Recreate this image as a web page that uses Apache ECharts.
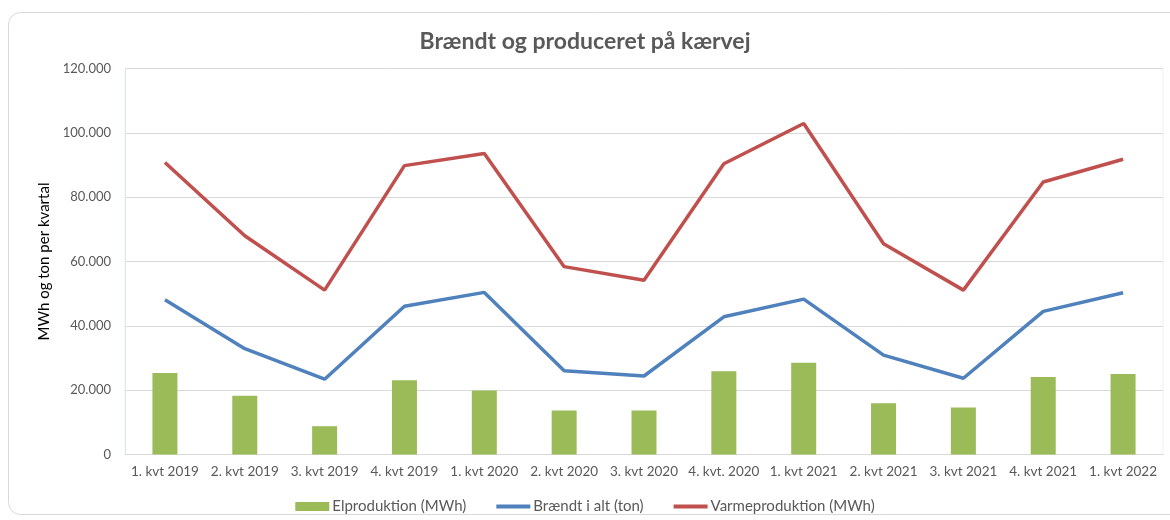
<!DOCTYPE html>
<html>
<head>
<meta charset="utf-8">
<script src="https://cdn.jsdelivr.net/npm/echarts@6/dist/echarts.min.js"></script>
<style>
html,body{margin:0;padding:0;background:#fff;}
#c{width:1170px;height:520px;}
</style>
</head>
<body>
<div id="c"></div>
<script>
var categories = ["1. kvt 2019","2. kvt 2019","3. kvt 2019","4. kvt 2019","1. kvt 2020","2. kvt 2020","3. kvt 2020","4. kvt. 2020","1. kvt 2021","2. kvt 2021","3. kvt 2021","4. kvt 2021","1. kvt 2022"];
var elproduktion = [25300,18300,8800,23100,19900,13700,13700,25900,28500,15900,14600,24100,25000];
var braendt = [48100,32900,23400,46100,50400,26000,24400,42800,48300,30900,23700,44500,50300];
var varme = [90800,68000,51100,89800,93600,58400,54200,90400,102900,65500,51100,84700,91800];
var yTicks = [0,20000,40000,60000,80000,100000,120000];

var font = "Lato, 'Open Sans', sans-serif";
var lineIcon = 'path://M0,0H36V4H0Z';
var chart = echarts.init(document.getElementById('c'));
function fmt(v){ return v === 0 ? '0' : String(v).replace(/\B(?=(\d{3})+(?!\d))/g, '.'); }
chart.setOption({
  animation:false,
  graphic:[{type:'rect',shape:{x:8.5,y:12.5,width:1175,height:502,r:12},style:{fill:'none',stroke:'#d9d9d9',lineWidth:1},z:-1}],
  title:{text:'Brændt og produceret på kærvej',left:'center',top:25,textStyle:{fontFamily:font,fontSize:23,fontWeight:'bold',color:'#595959'}},
  grid:{left:125,right:7,top:68.5,bottom:65.5,show:true,borderColor:'#eef0f4',borderWidth:1},
  legend:{top:494,left:'center',itemGap:30,itemWidth:34,itemHeight:9,symbolKeepAspect:true,
    textStyle:{fontFamily:font,fontSize:15,color:'#595959',padding:[0,0,0,-2]},
    data:[{name:'Elproduktion (MWh)',icon:'rect'},{name:'Brændt i alt (ton)',icon:lineIcon},{name:'Varmeproduktion (MWh)',icon:lineIcon}]},
  xAxis:{type:'category',data:categories,axisTick:{show:false},axisLine:{lineStyle:{color:'#d9d9d9'}},
    axisLabel:{interval:0,margin:10,fontFamily:font,fontSize:13.5,color:'#595959'}},
  yAxis:{type:'value',min:0,max:120000,interval:20000,name:'MWh og ton per kvartal',nameLocation:'middle',nameGap:73,
    nameTextStyle:{fontFamily:font,fontSize:15,color:'#000'},
    axisLine:{show:true,lineStyle:{color:'#dce6f2'}},axisTick:{show:false},
    splitLine:{lineStyle:{color:'#d9d9d9'}},
    axisLabel:{margin:14,fontFamily:font,fontSize:13,color:'#595959',formatter:fmt}},
  series:[
    {name:'Elproduktion (MWh)',type:'bar',data:elproduktion,barWidth:25,itemStyle:{color:'#9bbb59'}},
    {name:'Brændt i alt (ton)',type:'line',data:braendt,symbol:'none',lineStyle:{width:3.5,color:'#4f81bd'},itemStyle:{color:'#4f81bd'}},
    {name:'Varmeproduktion (MWh)',type:'line',data:varme,symbol:'none',lineStyle:{width:3.5,color:'#c0504d'},itemStyle:{color:'#c0504d'}}
  ]
});
</script>
</body>
</html>
